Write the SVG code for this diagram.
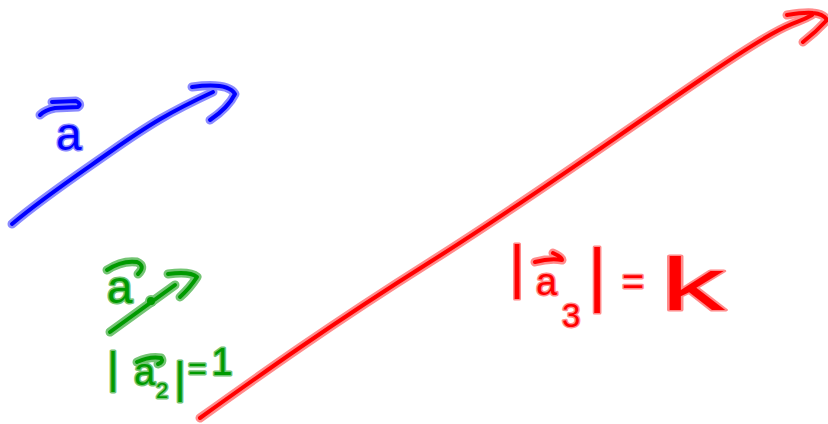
<svg xmlns="http://www.w3.org/2000/svg" width="828" height="424" viewBox="0 0 828 424">
<style>
.halo{fill:none;stroke-width:9;stroke-linecap:round;stroke-linejoin:round}
.core{fill:none;stroke-width:4;stroke-linecap:round;stroke-linejoin:round}
.bh{stroke:#8a8aff}.bc{stroke:#0000ff}
.rh{stroke:#ff8c8c}.rc{stroke:#ff0000}
.gh{stroke:#74c474}.gc{stroke:#009a00}
text{font-family:"Liberation Sans","DejaVu Sans",sans-serif;paint-order:stroke;stroke-width:3;stroke-linejoin:round}
.tb{fill:#0000ff;stroke:#8a8aff}
.tr{fill:#ff0000;stroke:#ff8c8c}
.tg{fill:#009a00;stroke:#74c474}
</style>
<defs>
<path id="blueShaft" d="M12,224 C40,200 70,180 110,152 S170,112 213,92"/>
<path id="blueHead" d="M192,87 Q228,82 235,94 Q228,108 210,120"/>
<path id="blueBar" d="M52,102 L76,101 Q82,104 78,107 L55,108 Q45,110 40,115"/>
<path id="redShaft" d="M200,418 C260,375 330,325 430,262 S600,148 700,80 S790,28 812,15"/>
<path id="redHead" d="M787,15 Q805,12 813,13 Q824,14 827,20 Q816,32 803,42"/>
<path id="redBar" d="M535,262 Q550,258 562,260 M553,253 Q562,257 562,260"/>
<path id="greenShaft" d="M110,332 L175,285"/>
<path id="greenHead" d="M168,274 Q190,271 197,277 Q190,288 180,297"/>
<path id="greenBar1" d="M107,270 Q122,260 137,262 Q146,266 138,274"/>
<path id="greenBar2" d="M137,362 Q150,356 161,358 Q164,362 158,364"/>
</defs>
<g id="connectors">
<g id="blue-vector">
<use href="#blueShaft" class="halo bh"/><use href="#blueHead" class="halo bh"/><use href="#blueBar" class="halo bh"/>
<use href="#blueShaft" class="core bc"/><use href="#blueHead" class="core bc"/><use href="#blueBar" class="core bc"/>
</g>
<g id="red-vector">
<use href="#redShaft" class="halo rh"/><use href="#redHead" class="halo rh"/><use href="#redBar" class="halo rh"/>
<use href="#redShaft" class="core rc"/><use href="#redHead" class="core rc"/><use href="#redBar" class="core rc"/>
</g>
<g id="green-vector">
<use href="#greenShaft" class="halo gh"/><use href="#greenHead" class="halo gh"/><use href="#greenBar1" class="halo gh"/><use href="#greenBar2" class="halo gh"/>
<circle cx="151" cy="301" r="6" fill="#74c474"/>
<use href="#greenShaft" class="core gc"/><use href="#greenHead" class="core gc"/><use href="#greenBar1" class="core gc"/><use href="#greenBar2" class="core gc"/>
<circle cx="151" cy="301" r="4" fill="#009a00"/>
</g>
</g>
<g id="label-a">
<text class="tb" x="56" y="150" font-size="46">a</text>
</g>
<g id="label-a2">
<text class="tg" x="107" y="303" font-size="46">a</text>
</g>
<g id="label-a2-norm">
<text class="tg" x="113" y="383" font-size="44" text-anchor="middle">|</text>
<text class="tg" x="134" y="385" font-size="38">a</text>
<text class="tg" x="156" y="398" font-size="22">2</text>
<text class="tg" x="180" y="393" font-size="44" text-anchor="middle">|</text>
<text class="tg" x="188" y="379" font-size="32">=</text>
<text class="tg" x="222" y="375" font-size="38" text-anchor="middle">1</text>
</g>
<g id="label-a3-norm">
<text class="tr" x="517" y="287" font-size="60" text-anchor="middle">|</text>
<text class="tr" x="536" y="295" font-size="38">a</text>
<text class="tr" x="562" y="327" font-size="33">3</text>
<text class="tr" x="597" y="298" font-size="70" text-anchor="middle">|</text>
<text class="tr" x="622" y="295" font-size="38">=</text>
<text class="tr" x="661" y="310" font-size="74" textLength="64" lengthAdjust="spacingAndGlyphs">k</text>
</g>
</svg>
